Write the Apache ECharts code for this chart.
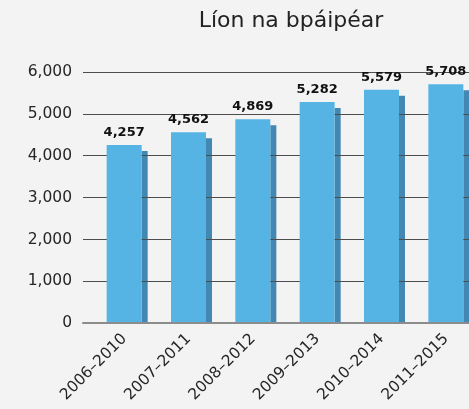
<!DOCTYPE html>
<html>
<head>
<meta charset="utf-8">
<script src="https://cdn.jsdelivr.net/npm/echarts@6/dist/echarts.min.js"></script>
<style>
  html, body { margin: 0; padding: 0; background: #f2f3f2; }
  #chart { width: 469px; height: 409px; }
</style>
</head>
<body>
<div id="chart"></div>
<script>
var periods = ['2006–2010', '2007–2011', '2008–2012', '2009–2013', '2010–2014', '2011–2015'];
var papers = [4257, 4562, 4869, 5282, 5579, 5708];
var yTicks = [0, 1000, 2000, 3000, 4000, 5000, 6000];

var font = '"DejaVu Sans", "Noto Sans", sans-serif';
var barW = 35, shadeW = 6, shift = 9;

function fmt(n) {
  return String(n).replace(/\B(?=(\d{3})+(?!\d))/g, ',');
}

var chart = echarts.init(document.getElementById('chart'));

var option = {
  backgroundColor: '#f2f3f2',
  animation: false,
  title: {
    text: 'Líon na bpáipéar',
    left: 286,
    top: 5,
    textAlign: 'center',
    textStyle: { fontFamily: font, fontSize: 22, fontWeight: 'normal', color: '#222' }
  },
  grid: { left: 83, right: 0, top: 72, bottom: 79.5 },
  xAxis: {
    type: 'category',
    data: periods,
    z: 3,
    axisTick: { show: false },
    axisLine: { lineStyle: { color: '#8c8c8c', width: 2 } },
    axisLabel: {
      rotate: 45,
      interval: 0,
      margin: 4,
      align: 'right',
      verticalAlign: 'top',
      lineHeight: 26,
      fontFamily: font,
      fontSize: 15.5,
      color: '#262626'
    }
  },
  yAxis: {
    type: 'value',
    min: yTicks[0],
    max: yTicks[yTicks.length - 1],
    interval: 1000,
    z: 1,
    axisLine: { show: false },
    axisTick: { show: false },
    splitLine: { lineStyle: { color: '#4d4d4d', width: 1 } },
    axisLabel: {
      margin: 11,
      fontFamily: font,
      fontSize: 15.5,
      color: '#262626',
      formatter: function (v) { return fmt(v); }
    }
  },
  series: [
    {
      // darker side of each bar, sits under the grid lines
      type: 'custom',
      z: 0,
      data: papers,
      renderItem: function (params, api) {
        var top = api.coord([api.value(0), api.value(1)]);
        var base = api.coord([api.value(0), 0]);
        var c = top[0] + shift;
        return {
          type: 'rect',
          shape: { x: c + barW / 2, y: top[1] + 6, width: shadeW, height: base[1] - top[1] - 6 },
          style: { fill: '#4388b3' }
        };
      },
      encode: { x: 0, y: 1 }
    },
    {
      type: 'custom',
      z: 2,
      data: papers,
      renderItem: function (params, api) {
        var top = api.coord([api.value(0), api.value(1)]);
        var base = api.coord([api.value(0), 0]);
        var c = top[0] + shift;
        return {
          type: 'group',
          children: [
            {
              type: 'rect',
              shape: { x: c - barW / 2, y: top[1], width: barW, height: base[1] - top[1] },
              style: { fill: '#56b4e4' }
            },
            {
              type: 'text',
              x: c,
              y: top[1] - 6,
              style: {
                text: fmt(api.value(1)),
                align: 'center',
                verticalAlign: 'bottom',
                fontFamily: font,
                fontSize: 13,
                fontWeight: 'bold',
                fill: '#111'
              }
            }
          ]
        };
      },
      encode: { x: 0, y: 1 }
    }
  ]
};

chart.setOption(option);
</script>
</body>
</html>
